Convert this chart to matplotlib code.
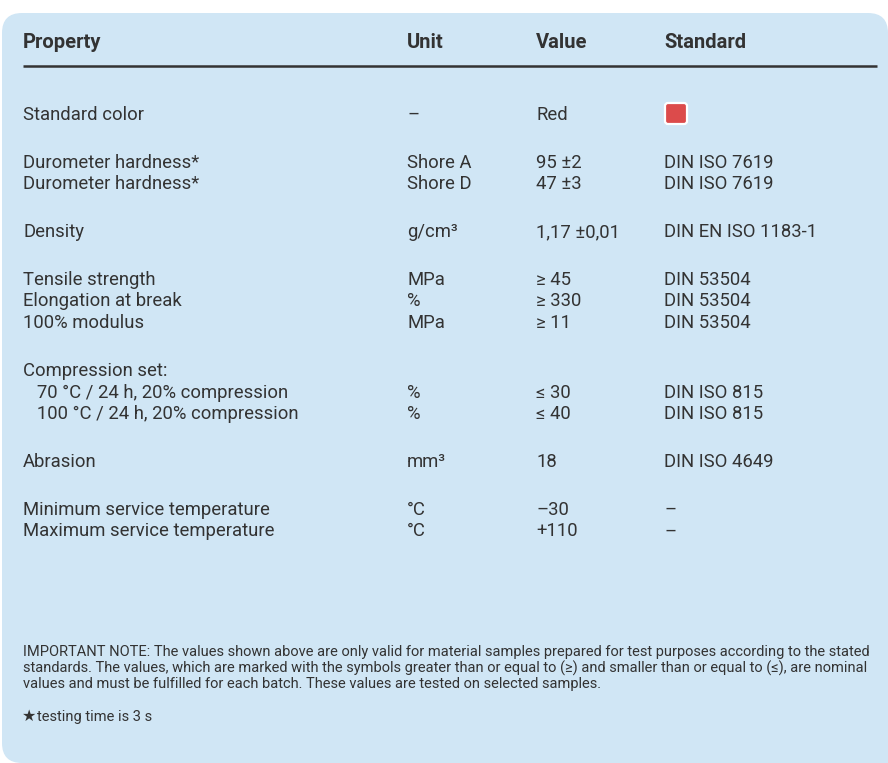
import matplotlib
matplotlib.use("Agg")
import matplotlib.pyplot as plt
from matplotlib.patches import FancyBboxPatch

# table content, grouped as in the data sheet
headers = ["Property", "Unit", "Value", "Standard"]
groups = [
    [("Standard color", "–", "Red", "")],
    [("Durometer hardness*", "Shore A", "95 ±2", "DIN ISO 7619"),
     ("Durometer hardness*", "Shore D", "47 ±3", "DIN ISO 7619")],
    [("Density", "g/cm³", "1,17 ±0,01", "DIN EN ISO 1183-1")],
    [("Tensile strength", "MPa", "≥ 45", "DIN 53504"),
     ("Elongation at break", "%", "≥ 330", "DIN 53504"),
     ("100% modulus", "MPa", "≥ 11", "DIN 53504")],
    [("Compression set:", "", "", ""),
     ("   70 °C / 24 h, 20% compression", "%", "≤ 30", "DIN ISO 815"),
     ("   100 °C / 24 h, 20% compression", "%", "≤ 40", "DIN ISO 815")],
    [("Abrasion", "mm³", "18", "DIN ISO 4649")],
    [("Minimum service temperature", "°C", "–30", "–"),
     ("Maximum service temperature", "°C", "+110", "–")],
]
swatch_color = "#dc4b4b"
note = ("IMPORTANT NOTE: The values shown above are only valid for material samples prepared for test purposes according to the stated\n"
        "standards. The values, which are marked with the symbols greater than or equal to (≥) and smaller than or equal to (≤), are nominal\n"
        "values and must be fulfilled for each batch. These values are tested on selected samples.")
footnote = "testing time is 3 s"

W, H = 888, 763
bg = "#d0e6f5"
ink = "#333333"
fam = ["Roboto", "DejaVu Sans"]

fig = plt.figure(figsize=(W / 100, H / 100), dpi=100)
ax = fig.add_axes([0, 0, 1, 1])
ax.set_xlim(0, W)
ax.set_ylim(H, 0)
ax.axis("off")

# light blue card; its lower right corner runs past the picture edge
panel = FancyBboxPatch((2, 13), 886, 750, boxstyle="round,pad=0,rounding_size=20",
                       fc=bg, ec="none")
ax.add_patch(panel)
ax.add_patch(plt.Rectangle((800, 700), 100, 80, fc=bg, ec="none"))

cols = [23, 407, 536, 664]
for x, h in zip(cols, headers):
    ax.text(x, 42, h, fontsize=14.5, fontweight="bold", color=ink, family=fam, va="center")
ax.plot([23, 877], [66, 66], color=ink, lw=1.8, solid_capstyle="butt")

y = 115
for g in groups:
    for row in g:
        for x, t in zip(cols, row):
            if t:
                ax.text(x, y, t, fontsize=13.3, color=ink, family=fam, va="center")
        if row[2] == "Red":
            sw = FancyBboxPatch((665, y - 12), 22, 21, boxstyle="round,pad=0,rounding_size=3",
                                fc=swatch_color, ec="white", lw=1.6)
            ax.add_patch(sw)
        y += 21.7
    y += 26

ax.text(23, 668, note, fontsize=10.5, color=ink, family=fam, va="center",
        linespacing=1.08)
ax.text(22, 716, "★", fontsize=11.5, color=ink, family=["DejaVu Sans"], va="center")
ax.text(37, 717, footnote, fontsize=10.5, color=ink, family=fam, va="center")

fig.savefig("out.png", dpi=100, facecolor="white")
